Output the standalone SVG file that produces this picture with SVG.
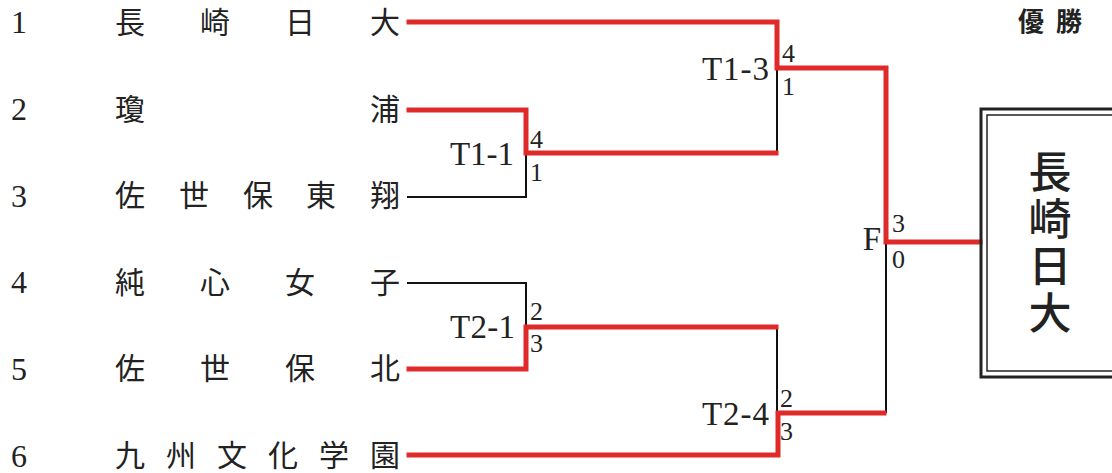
<svg xmlns="http://www.w3.org/2000/svg" width="1112" height="473" viewBox="0 0 1112 473">
<style>
.num{font-family:"Liberation Serif","DejaVu Serif",serif;font-size:32px;fill:#222}
.name{font-family:"Noto Sans CJK JP","Noto Sans CJK SC",sans-serif;font-size:30px;fill:#222}
.lbl{font-family:"Liberation Serif","DejaVu Serif",serif;font-size:33px;fill:#222;text-anchor:end}
.sc{font-family:"Liberation Serif","DejaVu Serif",serif;font-size:26px;fill:#222}
.red{fill:none;stroke:#e02a2a;stroke-width:5;stroke-linejoin:miter;stroke-linecap:square}
.blk{fill:none;stroke:#111;stroke-width:2}
.win{font-family:"Noto Sans CJK JP","Noto Sans CJK SC",sans-serif;font-size:43px;fill:#222;text-anchor:middle;font-weight:500}
</style>
<rect width="1112" height="473" fill="#fff"/>
<g id="teams">
<g id="team1"><text class="num" x="11" y="33">1</text><text class="name" x="115 200 285 370" y="33">長崎日大</text></g>
<g id="team2"><text class="num" x="11" y="120">2</text><text class="name" x="115 370" y="120">瓊浦</text></g>
<g id="team3"><text class="num" x="11" y="207">3</text><text class="name" x="115 179 243 306 370" y="206">佐世保東翔</text></g>
<g id="team4"><text class="num" x="11" y="293">4</text><text class="name" x="115 200 285 370" y="293">純心女子</text></g>
<g id="team5"><text class="num" x="11" y="380">5</text><text class="name" x="115 200 285 370" y="379">佐世保北</text></g>
<g id="team6"><text class="num" x="11" y="467">6</text><text class="name" x="115 166 217 268 319 370" y="466">九州文化学園</text></g>
</g>
<g id="connectors">
<path class="blk" d="M407 197 H526 V153"/>
<path class="blk" d="M407 283 H526 V327"/>
<path class="blk" d="M777 68 V153"/>
<path class="blk" d="M777 327 V413"/>
<path class="blk" d="M886 242 V413"/>
<path class="red" d="M409 22 H777 V68 H886 V242 H980"/>
<path class="red" d="M409 110 H526 V153 H776"/>
<path class="red" d="M409 369 H526 V327 H776"/>
<path class="red" d="M409 455 H778 V413 H884"/>
</g>
<g id="T1-1"><text class="lbl" x="514" y="165" textLength="64">T1-1</text><text class="sc" x="530" y="148">4</text><text class="sc" x="530" y="181">1</text></g>
<g id="T1-3"><text class="lbl" x="769" y="80" textLength="67">T1-3</text><text class="sc" x="782" y="62">4</text><text class="sc" x="782" y="95">1</text></g>
<g id="T2-1"><text class="lbl" x="515" y="338" textLength="65">T2-1</text><text class="sc" x="530" y="320">2</text><text class="sc" x="530" y="352">3</text></g>
<g id="T2-4"><text class="lbl" x="769" y="425" textLength="67">T2-4</text><text class="sc" x="780" y="407">2</text><text class="sc" x="780" y="440">3</text></g>
<g id="F"><text class="lbl" x="881" y="250">F</text><text class="sc" x="892" y="232">3</text><text class="sc" x="892" y="268">0</text></g>
<g id="champion">
<text x="1018" y="31" font-family="Noto Sans CJK JP,Noto Sans CJK SC,sans-serif" font-size="26" font-weight="bold" fill="#222" textLength="64">優勝</text>
<rect x="981" y="109" width="200" height="268" fill="none" stroke="#222" stroke-width="3"/>
<rect x="987" y="115" width="200" height="256" fill="none" stroke="#222" stroke-width="1.5"/>
<text class="win" x="1050 1050 1050 1050" y="188 235 282 329">長崎日大</text>
</g>
</svg>
